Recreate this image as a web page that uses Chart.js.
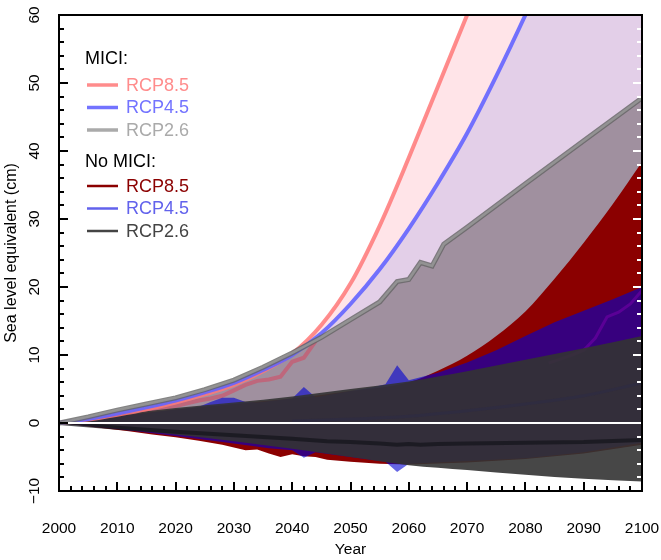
<!DOCTYPE html>
<html>
<head>
<meta charset="utf-8">
<script src="https://cdn.jsdelivr.net/npm/chart.js@4.4.0/dist/chart.umd.min.js"></script>
<style>
html,body{margin:0;padding:0;background:#fff;}
#c{display:block;}
</style>
</head>
<body>
<canvas id="c" width="661" height="560"></canvas>
<script>
// ---------- data ----------
const years5 = [2000,2005,2010,2015,2020,2025,2030,2035,2040,2045,2050,2055,2060,2065,2070,2075,2080,2085,2090,2095,2100];
const years10 = [2000,2010,2020,2030,2040,2050,2060,2070,2080,2090,2100];

// MICI upper curves
const miciRcp85 = [0,0.5,1.2,2.0,3.0,4.2,5.6,7.6,10.2,14.4,20.5,29,39,49.5,60,70.5,81,93,105,118,132];
const miciRcp45 = [0,0.6,1.4,2.3,3.3,4.5,5.9,7.8,10.0,13.2,17.5,22.6,28.6,35.3,42.6,51,60,69.5,79.5,90,101];
const miciRcp26Years = [2000,2005,2010,2015,2020,2025,2030,2035,2040,2045,2050,2055,2058,2060,2062,2064,2066,2070,2080,2090,2100];
const miciRcp26 = [0,0.9,1.9,2.8,3.7,4.9,6.3,8.2,10.3,12.6,15.2,17.8,20.8,21.1,23.6,23.1,26.3,28.8,35.2,41.5,47.8];

// MICI RCP8.5 jagged central line
const miciMid85Years = [2014,2016,2018,2020,2022,2024,2026,2028,2030,2032,2034,2036,2038,2040,2042,2044];
const miciMid85 = [1.6,1.9,2.2,2.5,2.9,3.3,3.6,4.0,4.8,5.6,6.2,6.4,6.8,9.0,9.6,12.0];

// No MICI RCP8.5 band
const noRcp85HiYears = [2000,2010,2020,2030,2040,2050,2060,2065,2070,2075,2080,2085,2090,2095,2100];
const noRcp85Hi = [0,1.0,2.0,2.8,3.6,4.7,6.0,7.7,9.9,12.8,16.4,21.2,26.5,32.2,38.4];
const noRcp85LoYears = [2000,2004,2008,2012,2016,2020,2024,2028,2030,2032,2034,2036,2038,2040,2042,2044,2046,2050,2055,2060,2070,2080,2090,2100];
const noRcp85Lo = [0,-0.4,-0.8,-1.2,-1.7,-2.1,-2.6,-3.2,-3.6,-4.0,-3.9,-4.5,-5.0,-4.6,-4.9,-5.0,-5.4,-5.7,-6.0,-6.1,-5.8,-5.3,-4.5,-3.2];

// No MICI RCP4.5 band
const noRcp45HiYears = [2000,2010,2020,2024,2026,2028,2030,2032,2034,2040,2042,2044,2050,2054,2056,2058,2060,2065,2070,2075,2080,2085,2090,2095,2100];
const noRcp45Hi = [0,1.0,2.0,2.4,3.1,3.7,3.7,3.1,3.0,3.6,5.3,3.8,4.7,5.3,5.7,8.5,6.3,7.4,8.9,10.7,12.8,14.8,16.5,18.2,20.0];
const noRcp45LoYears = [2000,2010,2020,2030,2036,2040,2042,2044,2050,2056,2058,2060,2070,2080,2090,2100];
const noRcp45Lo = [0,-0.9,-1.9,-3.0,-3.7,-4.0,-5.1,-4.3,-5.0,-5.7,-7.2,-6.0,-5.6,-5.2,-4.3,-2.9];

// No MICI RCP2.6 band
const noRcp26Hi = [0,1.2,2.2,3.0,3.9,5.0,6.1,7.6,9.3,11.0,12.8];
const noRcp26Lo = [0,-0.8,-1.7,-2.7,-3.8,-5.0,-6.2,-6.9,-7.6,-8.2,-8.6];

// inner lines
const noMidYears = [2000,2010,2020,2030,2040,2046,2050,2055,2058,2060,2062,2065,2070,2080,2090,2100];
const noMid26 = [0,-0.7,-1.3,-1.8,-2.3,-2.7,-2.8,-3.0,-3.2,-3.1,-3.2,-3.1,-3.0,-2.9,-2.8,-2.5];
const noMid45Years = [2040,2060,2080,2090,2100];
const noMid45 = [0.3,1.0,2.8,4.0,5.9];
const miciMid45Years = [2084,2086,2088,2090,2092,2094,2096,2098,2100];
const miciMid45 = [8.8,9.4,10.0,10.7,12.5,15.6,16.3,17.5,19.5];

// axes
const xTicks = [2000,2010,2020,2030,2040,2050,2060,2070,2080,2090,2100];
const yTicks = [-10,0,10,20,30,40,50,60];
const yTickLabels = ['\u221210','0','10','20','30','40','50','60'];

// ---------- build ----------
const pts = (xs, ys) => xs.map((x, i) => ({x: x, y: ys[i]}));
const FONT = '"Liberation Sans", Arial, Helvetica, sans-serif';

const layers = [
  {data: pts(years5, miciRcp85), fill: 'origin', backgroundColor: '#FFE4E8', borderWidth: 0, cubicInterpolationMode: 'monotone'},
  {data: pts(years5, miciRcp45), fill: 'origin', backgroundColor: '#E3CFE8', borderWidth: 0, cubicInterpolationMode: 'monotone'},
  {data: pts(miciRcp26Years, miciRcp26), fill: 'origin', backgroundColor: '#A0909F', borderWidth: 0},
  {data: pts(miciMid85Years, miciMid85), borderColor: 'rgba(215,70,95,0.55)', borderWidth: 4},
  {data: pts(noRcp85LoYears, noRcp85Lo), borderWidth: 0, borderColor: 'rgba(0,0,0,0)'},            // 4
  {data: pts(noRcp85HiYears, noRcp85Hi), fill: {target: 4}, backgroundColor: '#8B0000', borderWidth: 0, cubicInterpolationMode: 'monotone'},
  {data: pts(noRcp45LoYears, noRcp45Lo), borderWidth: 0, borderColor: 'rgba(0,0,0,0)'},            // 6
  {data: pts(noRcp45HiYears, noRcp45Hi), fill: {target: 6}, backgroundColor: 'rgba(0,0,210,0.6)', borderWidth: 0},
  {data: pts(miciMid45Years, miciMid45), borderColor: 'rgba(120,0,170,0.55)', borderWidth: 3},
  {data: pts(years10, noRcp26Lo), borderWidth: 0, borderColor: 'rgba(0,0,0,0)', cubicInterpolationMode: 'monotone'}, // 9
  {data: pts(years10, noRcp26Hi), fill: {target: 9}, backgroundColor: 'rgba(51,51,51,0.9)', borderWidth: 0, cubicInterpolationMode: 'monotone'},
  {data: pts(noMidYears, noMid26), borderColor: 'rgba(22,22,28,0.75)', borderWidth: 4},
  {data: pts(noMid45Years, noMid45), borderColor: 'rgba(40,40,80,0.3)', borderWidth: 3, cubicInterpolationMode: 'monotone'},
  {data: pts(years5, miciRcp85), borderColor: 'rgba(255,120,120,0.85)', borderWidth: 4, cubicInterpolationMode: 'monotone'},
  {data: pts(years5, miciRcp45), borderColor: 'rgba(100,100,255,0.9)', borderWidth: 4, cubicInterpolationMode: 'monotone'},
  {data: pts(miciRcp26Years, miciRcp26), borderColor: 'rgba(100,100,100,0.8)', borderWidth: 5},
  {data: pts(miciRcp26Years, miciRcp26), borderColor: 'rgba(150,150,150,0.9)', borderWidth: 2.5}
];
const N = layers.length;
const datasets = layers.map((d, i) => Object.assign({
  fill: false, pointRadius: 0, pointHoverRadius: 0, tension: 0, order: N - i,
  backgroundColor: 'rgba(0,0,0,0)'
}, d));

const axesPlugin = {
  id: 'rAxes',
  afterDraw(chart) {
    const ctx = chart.ctx;
    const xs = chart.scales.x, ys = chart.scales.y;
    const L = xs.left, R = xs.right, T = ys.top, B = ys.bottom;
    ctx.save();
    // zero line
    ctx.strokeStyle = '#ffffff';
    ctx.lineWidth = 2;
    ctx.beginPath();
    const y0 = ys.getPixelForValue(0);
    ctx.moveTo(L, y0); ctx.lineTo(R, y0); ctx.stroke();

    // right-side white ticks
    ctx.lineWidth = 2;
    for (let v = -10; v <= 60; v += 2) {
      const y = Math.round(ys.getPixelForValue(v));
      const len = (v % 10 === 0) ? 9 : 5;
      ctx.strokeStyle = '#ffffff';
      ctx.beginPath(); ctx.moveTo(R, y); ctx.lineTo(R - len, y); ctx.stroke();
    }
    // left black ticks
    ctx.strokeStyle = '#000';
    for (let v = -10; v <= 60; v += 2) {
      const y = Math.round(ys.getPixelForValue(v));
      const len = (v % 10 === 0) ? 9 : 5;
      ctx.beginPath(); ctx.moveTo(L, y); ctx.lineTo(L + len, y); ctx.stroke();
    }
    // bottom black ticks
    for (let yr = 2000; yr <= 2100; yr += 2) {
      const x = Math.round(xs.getPixelForValue(yr));
      const len = (yr % 10 === 0) ? 9 : 5;
      ctx.beginPath(); ctx.moveTo(x, B); ctx.lineTo(x, B - len); ctx.stroke();
    }
    // box
    ctx.lineWidth = 2;
    ctx.strokeStyle = '#000';
    ctx.strokeRect(L, T, R - L, B - T);

    // tick labels
    ctx.fillStyle = '#000';
    ctx.font = '15.5px ' + FONT;
    ctx.textAlign = 'center';
    ctx.textBaseline = 'middle';
    xTicks.forEach(t => ctx.fillText(String(t), xs.getPixelForValue(t), 529));
    yTicks.forEach((t, i) => {
      ctx.save();
      ctx.translate(35, ys.getPixelForValue(t));
      ctx.rotate(-Math.PI / 2);
      ctx.fillText(yTickLabels[i], 0, 0);
      ctx.restore();
    });
    // titles
    ctx.font = '15.5px ' + FONT;
    ctx.fillText('Year', (L + R) / 2, 550);
    ctx.save();
    ctx.translate(12, (T + B) / 2);
    ctx.rotate(-Math.PI / 2);
    ctx.font = '16px ' + FONT;
    ctx.fillText('Sea level equivalent (cm)', 0, 0);
    ctx.restore();

    // legend
    ctx.textAlign = 'left';
    ctx.textBaseline = 'alphabetic';
    ctx.font = '18px ' + FONT;
    ctx.fillStyle = '#000';
    ctx.fillText('MICI:', 85, 64);
    ctx.fillText('No MICI:', 85, 167);
    const items = [
      {t: 'RCP8.5', c: '#FF8C8C', y: 85, w: 3.5},
      {t: 'RCP4.5', c: '#7373FF', y: 107.5, w: 3.5},
      {t: 'RCP2.6', c: '#AAAAAA', y: 130, w: 3.5},
      {t: 'RCP8.5', c: '#8B0000', y: 186, w: 2.5},
      {t: 'RCP4.5', c: '#6262EC', y: 208.5, w: 2.5},
      {t: 'RCP2.6', c: '#444444', y: 231, w: 2.5}
    ];
    items.forEach(it => {
      ctx.strokeStyle = it.c;
      ctx.lineWidth = it.w;
      ctx.beginPath(); ctx.moveTo(87, it.y); ctx.lineTo(118, it.y); ctx.stroke();
      ctx.fillStyle = it.c;
      ctx.fillText(it.t, 126, it.y + 5.5);
    });
    ctx.restore();
  }
};

new Chart(document.getElementById('c'), {
  type: 'line',
  data: {datasets: datasets},
  options: {
    responsive: false,
    animation: false,
    devicePixelRatio: 1,
    layout: {padding: {left: 59, right: 19, top: 15, bottom: 69}},
    plugins: {legend: {display: false}, tooltip: {enabled: false}},
    scales: {
      x: {type: 'linear', min: 2000, max: 2100, display: false},
      y: {type: 'linear', min: -10, max: 60, display: false}
    }
  },
  plugins: [axesPlugin]
});
</script>
</body>
</html>
